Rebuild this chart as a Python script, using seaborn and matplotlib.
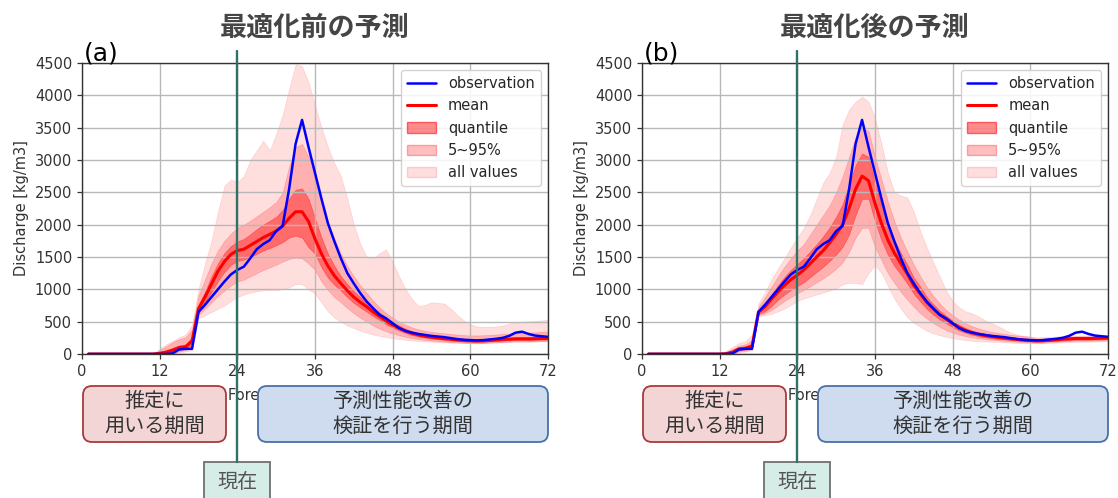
import matplotlib
matplotlib.use("Agg")
import matplotlib.pyplot as plt
import matplotlib.transforms as mtransforms
from matplotlib.patches import FancyBboxPatch, Patch
from matplotlib.lines import Line2D
import pandas as pd
import seaborn as sns

# ---------------- data ----------------
hours = list(range(1, 73))
NOW_HOUR = 24
x_ticks = [0, 12, 24, 36, 48, 60, 72]
y_ticks = [0, 500, 1000, 1500, 2000, 2500, 3000, 3500, 4000, 4500]

observation = [0, 0, 0, 0, 0, 0, 0, 0, 0, 0, 0, 0,
               0, 10, 70, 80, 80, 650, 760, 880, 1000, 1120, 1230, 1300,
               1350, 1480, 1620, 1700, 1760, 1900, 1980, 2550, 3250, 3620, 3200, 2800,
               2400, 2020, 1740, 1480, 1250, 1090, 940, 810, 705, 605, 550, 475,
               400, 355, 330, 310, 295, 280, 270, 260, 245, 230, 220, 215,
               210, 215, 225, 235, 250, 280, 330, 345, 310, 285, 275, 265]

# panel (a): before optimisation
mean_a = [0, 0, 0, 0, 0, 0, 0, 0, 0, 0, 0, 10,
          30, 60, 100, 110, 200, 700, 880, 1080, 1280, 1430, 1540, 1600,
          1620, 1680, 1740, 1800, 1850, 1900, 1980, 2100, 2200, 2200, 2050, 1780,
          1550, 1360, 1210, 1090, 980, 880, 800, 730, 650, 580, 510, 450,
          400, 355, 320, 295, 275, 260, 248, 238, 228, 218, 210, 205,
          203, 205, 210, 218, 225, 230, 235, 235, 235, 237, 240, 240]
q25_a = [0, 0, 0, 0, 0, 0, 0, 0, 0, 0, 0, 0,
         10, 30, 70, 80, 150, 650, 800, 960, 1130, 1270, 1380, 1440,
         1460, 1500, 1550, 1600, 1640, 1680, 1730, 1800, 1830, 1800, 1650, 1550,
         1340, 1180, 1070, 980, 880, 790, 720, 655, 585, 525, 460, 410,
         365, 325, 292, 270, 252, 238, 227, 218, 208, 199, 192, 188,
         187, 189, 194, 201, 207, 212, 216, 217, 217, 219, 222, 222]
q75_a = [0, 0, 0, 0, 0, 0, 0, 0, 0, 0, 0, 20,
         50, 90, 130, 150, 260, 760, 960, 1200, 1400, 1560, 1670, 1740,
         1780, 1850, 1930, 2000, 2060, 2120, 2230, 2400, 2540, 2560, 2400, 2100,
         1800, 1550, 1360, 1200, 1080, 970, 880, 800, 715, 640, 565, 495,
         440, 390, 350, 322, 300, 284, 270, 259, 248, 238, 229, 223,
         220, 222, 227, 235, 243, 250, 255, 256, 256, 258, 261, 261]
p05_a = [0, 0, 0, 0, 0, 0, 0, 0, 0, 0, 0, 0,
         0, 10, 40, 60, 100, 600, 700, 800, 900, 980, 1060, 1120,
         1150, 1200, 1250, 1300, 1340, 1380, 1430, 1470, 1490, 1480, 1400, 1300,
         1120, 990, 880, 800, 710, 630, 560, 500, 440, 390, 350, 320,
         290, 265, 245, 230, 218, 208, 200, 193, 186, 180, 175, 172,
         171, 172, 176, 182, 187, 192, 196, 196, 196, 198, 200, 200]
p95_a = [0, 0, 0, 0, 0, 0, 0, 0, 0, 0, 0, 60,
         120, 180, 230, 260, 380, 900, 1150, 1400, 1600, 1750, 1860, 1950,
         2000, 2060, 2130, 2200, 2270, 2350, 2500, 2900, 3200, 3250, 3050, 2800,
         2400, 2050, 1780, 1550, 1360, 1200, 1060, 940, 820, 720, 630, 560,
         500, 450, 410, 380, 358, 342, 330, 320, 310, 300, 292, 287,
         287, 290, 296, 302, 308, 316, 325, 330, 332, 336, 342, 348]
min_a = [0, 0, 0, 0, 0, 0, 0, 0, 0, 0, 0, 0,
         0, 0, 20, 40, 60, 550, 600, 650, 700, 750, 820, 880,
         920, 950, 970, 985, 990, 990, 1000, 1030, 1080, 1080, 1000, 930,
         800, 660, 560, 500, 440, 400, 360, 330, 300, 280, 260, 245,
         230, 220, 210, 200, 195, 190, 185, 180, 175, 170, 168, 165,
         165, 168, 172, 176, 180, 185, 190, 190, 190, 192, 195, 195]
max_a = [0, 0, 0, 0, 0, 0, 0, 0, 0, 0, 0, 80,
         150, 200, 260, 300, 450, 1000, 1400, 1750, 2200, 2600, 2700, 2660,
         2750, 3000, 3150, 3300, 3150, 3400, 3700, 4100, 4480, 4450, 4200, 3850,
         3500, 3200, 2950, 2750, 2400, 2000, 1700, 1500, 1480, 1560, 1620, 1420,
         1200, 1000, 850, 740, 760, 800, 790, 780, 700, 600, 520, 460,
         425, 420, 420, 425, 440, 470, 490, 500, 505, 510, 520, 530]

# panel (b): after optimisation
mean_b = [0, 0, 0, 0, 0, 0, 0, 0, 0, 0, 0, 0,
          5, 30, 80, 90, 120, 650, 730, 850, 960, 1060, 1150, 1220,
          1300, 1400, 1500, 1600, 1720, 1850, 2000, 2250, 2550, 2750, 2680, 2330,
          2020, 1760, 1560, 1400, 1240, 1060, 930, 800, 700, 610, 540, 470,
          410, 365, 330, 305, 285, 270, 258, 246, 235, 225, 215, 208,
          205, 207, 213, 220, 228, 235, 240, 240, 240, 242, 245, 248]
q25_b = [0, 0, 0, 0, 0, 0, 0, 0, 0, 0, 0, 0,
         0, 15, 60, 70, 100, 620, 660, 740, 840, 920, 990, 1050,
         1110, 1190, 1270, 1350, 1440, 1540, 1660, 1850, 2150, 2400, 2400, 2050,
         1760, 1530, 1360, 1230, 1090, 930, 810, 700, 610, 535, 475, 415,
         365, 328, 298, 276, 259, 245, 235, 225, 216, 207, 199, 193,
         190, 192, 198, 205, 212, 218, 222, 222, 222, 224, 227, 230]
q75_b = [0, 0, 0, 0, 0, 0, 0, 0, 0, 0, 0, 0,
         10, 50, 100, 115, 160, 690, 790, 920, 1060, 1190, 1300, 1390,
         1480, 1590, 1700, 1820, 1960, 2120, 2320, 2620, 2920, 3100, 3050, 2650,
         2300, 2000, 1760, 1560, 1380, 1180, 1040, 880, 770, 670, 590, 515,
         450, 400, 362, 335, 313, 297, 284, 271, 259, 248, 238, 230,
         222, 224, 229, 236, 243, 250, 254, 254, 254, 256, 259, 262]
p05_b = [0, 0, 0, 0, 0, 0, 0, 0, 0, 0, 0, 0,
         0, 5, 40, 55, 80, 600, 630, 680, 750, 820, 880, 940,
         990, 1050, 1110, 1170, 1240, 1320, 1420, 1580, 1800, 1950, 1950, 1650,
         1450, 1250, 1100, 960, 840, 730, 630, 550, 480, 420, 370, 330,
         300, 275, 258, 243, 231, 221, 212, 204, 196, 189, 183, 178,
         176, 178, 183, 190, 197, 202, 206, 206, 206, 208, 211, 213]
p95_b = [0, 0, 0, 0, 0, 0, 0, 0, 0, 0, 0, 0,
         30, 80, 130, 150, 220, 730, 880, 1040, 1200, 1350, 1480, 1600,
         1700, 1850, 2000, 2150, 2300, 2500, 2750, 3050, 3350, 3500, 3450, 3050,
         2700, 2350, 2050, 1800, 1580, 1380, 1200, 1040, 900, 780, 680, 600,
         530, 475, 430, 395, 365, 342, 325, 310, 297, 285, 275, 267,
         240, 242, 247, 253, 260, 266, 270, 271, 271, 273, 276, 278]
min_b = [0, 0, 0, 0, 0, 0, 0, 0, 0, 0, 0, 0,
         0, 0, 20, 40, 60, 580, 600, 620, 660, 700, 760, 820,
         860, 890, 920, 950, 980, 1020, 1080, 1100, 1100, 1080, 1250, 1380,
         1250, 1050, 850, 700, 570, 480, 420, 360, 320, 290, 265, 245,
         230, 215, 205, 198, 192, 188, 185, 180, 175, 170, 168, 165,
         165, 168, 172, 176, 180, 185, 190, 190, 190, 192, 195, 195]
max_b = [0, 0, 0, 0, 0, 0, 0, 0, 0, 0, 0, 0,
         50, 110, 170, 200, 300, 780, 960, 1150, 1320, 1480, 1650, 1800,
         1950, 2150, 2400, 2650, 2800, 3050, 3550, 3780, 3900, 3980, 3900, 3650,
         3250, 2800, 2500, 2450, 2420, 2200, 1900, 1650, 1420, 1200, 980, 820,
         720, 660, 630, 580, 520, 480, 430, 380, 330, 300, 280, 268,
         258, 260, 265, 270, 276, 282, 286, 287, 287, 288, 290, 292]

panel_titles = ["最適化前の予測", "最適化後の予測"]
panel_tags = ["(a)", "(b)"]
legend_labels = ["observation", "mean", "quantile", "5~95%", "all values"]
x_label = "Forecast [h]"
y_label = "Discharge [kg/m3]"
box_left_text = "推定に\n用いる期間"
box_right_text = "予測性能改善の\n検証を行う期間"
now_text = "現在"

# ---------------- style ----------------
sns.set_theme(style="ticks")
plt.rcParams['font.family'] = ['DejaVu Sans', 'Noto Sans CJK JP']
CJK = ['Noto Sans CJK JP', 'DejaVu Sans']

W, H = 1118, 498
fig = plt.figure(figsize=(W / 100, H / 100), dpi=100)

ax_left_px = [82, 642]
ax_w_px, ax_top_px, ax_bot_px = 466, 63, 354

panels = [
    dict(mean=mean_a, q25=q25_a, q75=q75_a, p05=p05_a, p95=p95_a, vmin=min_a, vmax=max_a),
    dict(mean=mean_b, q25=q25_b, q75=q75_b, p05=p05_b, p95=p95_b, vmin=min_b, vmax=max_b),
]

def fx(px):
    return px / W

def fy(py):
    return 1 - py / H

GREEN = '#2f7264'

for i, (left, pdata) in enumerate(zip(ax_left_px, panels)):
    ax = fig.add_axes([fx(left), fy(ax_bot_px), ax_w_px / W, (ax_bot_px - ax_top_px) / H])
    ax.set_axisbelow('line')

    ax.fill_between(hours, pdata['vmin'], pdata['vmax'], color='red', alpha=0.13, linewidth=0.5)
    ax.fill_between(hours, pdata['p05'], pdata['p95'], color='red', alpha=0.20, linewidth=0.5)
    ax.fill_between(hours, pdata['q25'], pdata['q75'], color='red', alpha=0.40, linewidth=0.5)

    df = pd.DataFrame({'hour': hours, 'mean': pdata['mean'], 'observation': observation})
    sns.lineplot(data=df, x='hour', y='mean', color='red', linewidth=2.2, ax=ax)
    sns.lineplot(data=df, x='hour', y='observation', color='blue', linewidth=1.8, ax=ax)

    ax.set_xlim(0, 72)
    ax.set_ylim(0, 4500)
    ax.set_xticks(x_ticks)
    ax.set_yticks(y_ticks)
    ax.grid(True, color='#b8b8b8', linewidth=1.0)
    ax.tick_params(labelsize=10.5, length=3.5, width=0.9, colors='.2')
    for s in ax.spines.values():
        s.set_visible(True)
        s.set_color('.2')
        s.set_linewidth(1.0)
    ax.set_xlabel(x_label, fontsize=10.5, color='.2', ha='left')
    ax.xaxis.set_label_coords((228 - 82) / ax_w_px, -(388 - ax_bot_px) / (ax_bot_px - ax_top_px))
    ax.set_ylabel(y_label, fontsize=10.5, color='.2')

    handles = [
        Line2D([], [], color='blue', linewidth=1.8),
        Line2D([], [], color='red', linewidth=2.2),
        Patch(facecolor=(1, 0, 0, 0.45), edgecolor=(1, 0, 0, 0.55)),
        Patch(facecolor=(1, 0, 0, 0.25), edgecolor=(1, 0, 0, 0.3)),
        Patch(facecolor=(1, 0, 0, 0.13), edgecolor=(1, 0, 0, 0.16)),
    ]
    ax.legend(handles, legend_labels, loc='upper right', fontsize=10.5, frameon=True,
              framealpha=0.85, edgecolor='#cccccc', fancybox=True)

    cx = left + ax_w_px / 2
    fig.text(fx(cx), fy(28), panel_titles[i], ha='center', va='center', fontsize=19.5,
             fontweight='bold', color='#454545', family=CJK)
    fig.text(fx(left + 2), fy(54), panel_tags[i], ha='left', va='center', fontsize=18,
             color='black')

    # "now" marker line spanning beyond the axes
    blend = mtransforms.blended_transform_factory(ax.transData, fig.transFigure)
    fig.add_artist(Line2D([NOW_HOUR, NOW_HOUR], [fy(51), fy(462)], transform=blend,
                          color=GREEN, linewidth=1.7, zorder=5))

    # annotation boxes (inch coordinates so corners are round)
    tr = fig.dpi_scale_trans
    def box(x0, x1, y0, y1, fc, ec, text, tc='#333333', fs=14.5):
        p = FancyBboxPatch((x0 / 100, (H - y1) / 100), (x1 - x0) / 100, (y1 - y0) / 100,
                           boxstyle='round,pad=0,rounding_size=0.09', transform=tr,
                           facecolor=fc, edgecolor=ec, linewidth=1.3, zorder=4)
        fig.add_artist(p)
        fig.text(fx((x0 + x1) / 2), fy((y0 + y1) / 2), text, ha='center', va='center',
                 fontsize=fs, color=tc, family=CJK, linespacing=1.2, zorder=6)

    box(left + 1, left + 144, 386, 442, '#f3d5d5', '#a83a3c', box_left_text)
    box(left + 176, left + 466, 386, 442, '#cfdcef', '#4a70a8', box_right_text)

    # 現在 box centred on the now line
    now_px = ax.transData.transform((NOW_HOUR, 0))[0]
    nb = FancyBboxPatch(((now_px - 33) / 100, (H - 510) / 100), 66 / 100, 48 / 100,
                        boxstyle='square,pad=0', transform=tr, facecolor='#d6ece7',
                        edgecolor='#707070', linewidth=1.3, zorder=4)
    fig.add_artist(nb)
    fig.text(now_px / W, fy(482), now_text, ha='center', va='center', fontsize=14.5,
             color='#555555', family=CJK, zorder=6)

fig.savefig('out.png', dpi=100)
